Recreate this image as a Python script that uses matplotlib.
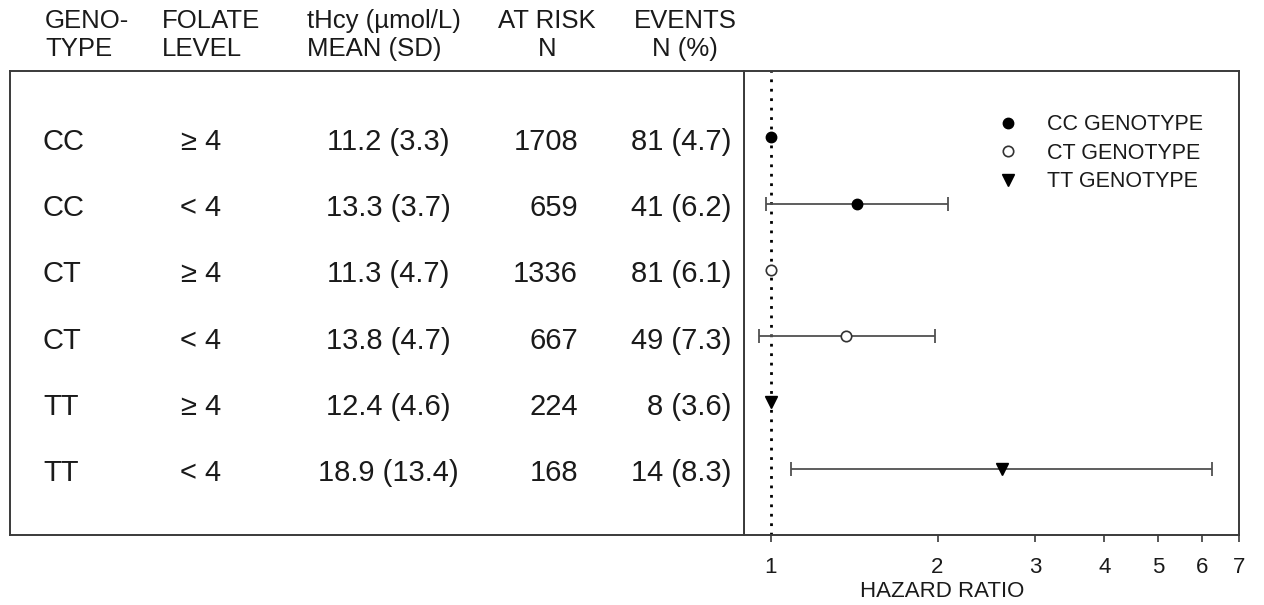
import numpy as np
import matplotlib
matplotlib.use("Agg")
import matplotlib.pyplot as plt
from matplotlib.lines import Line2D

plt.rcParams['font.family'] = ['Liberation Sans', 'DejaVu Sans']

# ---- data ----
genotype = ['CC', 'CC', 'CT', 'CT', 'TT', 'TT']
folate = ['≥ 4', '< 4', '≥ 4', '< 4', '≥ 4', '< 4']
thcy = ['11.2 (3.3)', '13.3 (3.7)', '11.3 (4.7)', '13.8 (4.7)', '12.4 (4.6)', '18.9 (13.4)']
at_risk = [1708, 659, 1336, 667, 224, 168]
events = [81, 41, 81, 49, 8, 14]
event_pct = [4.7, 6.2, 6.1, 7.3, 3.6, 8.3]

hr = np.array([1.0, 1.43, 1.0, 1.37, 1.0, 2.62])
ci_lo = np.array([np.nan, 0.98, np.nan, 0.953, np.nan, 1.09])
ci_hi = np.array([np.nan, 2.09, np.nan, 1.98, np.nan, 6.25])

header_top = ['GENO-', 'FOLATE', 'tHcy (µmol/L)', 'AT RISK', 'EVENTS']
header_bot = ['TYPE', 'LEVEL', 'MEAN (SD)', 'N', 'N (%)']
xticks = [1, 2, 3, 4, 5, 6, 7]

styles = {
    'CC': dict(marker='o', mfc='black', mec='black', ms=7.5, label='CC GENOTYPE'),
    'CT': dict(marker='o', mfc='white', mec='#333333', ms=7.5, mew=1.2, label='CT GENOTYPE'),
    'TT': dict(marker='v', mfc='black', mec='black', ms=8, label='TT GENOTYPE'),
}

W, H = 1264, 605
fig = plt.figure(figsize=(W / 100, H / 100), dpi=100)

top, bot = 71, 535
x0, xdiv, x1 = 10, 744, 1239
edge = '#3a3a3a'
txt = '#1a1a1a'

ax = fig.add_axes([xdiv / W, 1 - bot / H, (x1 - xdiv) / W, (bot - top) / H])
tab = fig.add_axes([x0 / W, 1 - bot / H, (xdiv - x0) / W, (bot - top) / H])

rows = np.arange(1, len(genotype) + 1)

# ---- table side ----
tab.set_xlim(x0, xdiv)
tab.set_ylim(7, 0)
tab.set_xticks([])
tab.set_yticks([])
for s in tab.spines.values():
    s.set_color(edge)
    s.set_linewidth(1.4)

fs = 21
dy = 0.07  # text sits a little below the row tick in the original
for r, g, f, t, n, e, p in zip(rows, genotype, folate, thcy, at_risk, events, event_pct):
    yy = r + dy
    tab.text(43, yy, g, ha='left', va='center', fontsize=fs, color=txt)
    tab.text(221, yy, f, ha='right', va='center', fontsize=fs, color=txt)
    tab.text(388, yy, t, ha='center', va='center', fontsize=fs, color=txt)
    tab.text(578, yy, str(n), ha='right', va='center', fontsize=fs, color=txt)
    tab.text(731, yy, f'{e} ({p})', ha='right', va='center', fontsize=fs, color=txt)

hx = [45, 162, 307, 547, 685]
hha = ['left', 'left', 'left', 'center', 'center']
for x, a, t1, t2 in zip(hx, hha, header_top, header_bot):
    fig.text(x / W, 1 - 21 / H, t1, ha=a, va='center', fontsize=18.5, color=txt)
    fig.text(x / W, 1 - 49 / H, t2, ha=a, va='center', fontsize=18.5, color=txt)

# ---- forest plot side ----
ax.set_xscale('log')
ax.set_xlim(0.895, 7)
ax.set_ylim(7, 0)

ax.axvline(1, color='black', lw=2, ls=(0, (1, 2.4)), zorder=1)
ax.errorbar(hr, rows, xerr=[hr - ci_lo, ci_hi - hr], fmt='none',
            ecolor='#505050', elinewidth=1.3, capsize=5, capthick=1.3, zorder=2)
for g, st in styles.items():
    idx = [i for i, gg in enumerate(genotype) if gg == g]
    kw = {k: v for k, v in st.items() if k != 'label'}
    ax.plot(hr[idx], rows[idx], ls='none', zorder=3, **kw)

ax.set_xticks(xticks)
ax.set_xticklabels([str(v) for v in xticks])
ax.xaxis.set_minor_locator(matplotlib.ticker.NullLocator())
ax.set_yticks(rows)
ax.tick_params(axis='y', direction='out', length=5, width=1.2, color=edge, labelleft=False)
ax.tick_params(axis='x', direction='out', length=5, width=1.2, color=edge,
               labelsize=16, pad=11, labelcolor=txt)
ax.set_xlabel('HAZARD RATIO', fontsize=16, color=txt, x=0.40, labelpad=2)
for s in ax.spines.values():
    s.set_color(edge)
    s.set_linewidth(1.4)

handles = [Line2D([], [], ls='none', **styles[g]) for g in styles]
ax.legend(handles=handles, loc='upper left', bbox_to_anchor=(0.494, 0.925),
          frameon=False, fontsize=15.5, handlelength=1.0, handletextpad=1.3,
          labelspacing=0.34, borderaxespad=0, labelcolor=txt)

fig.savefig('out.png', dpi=100)
